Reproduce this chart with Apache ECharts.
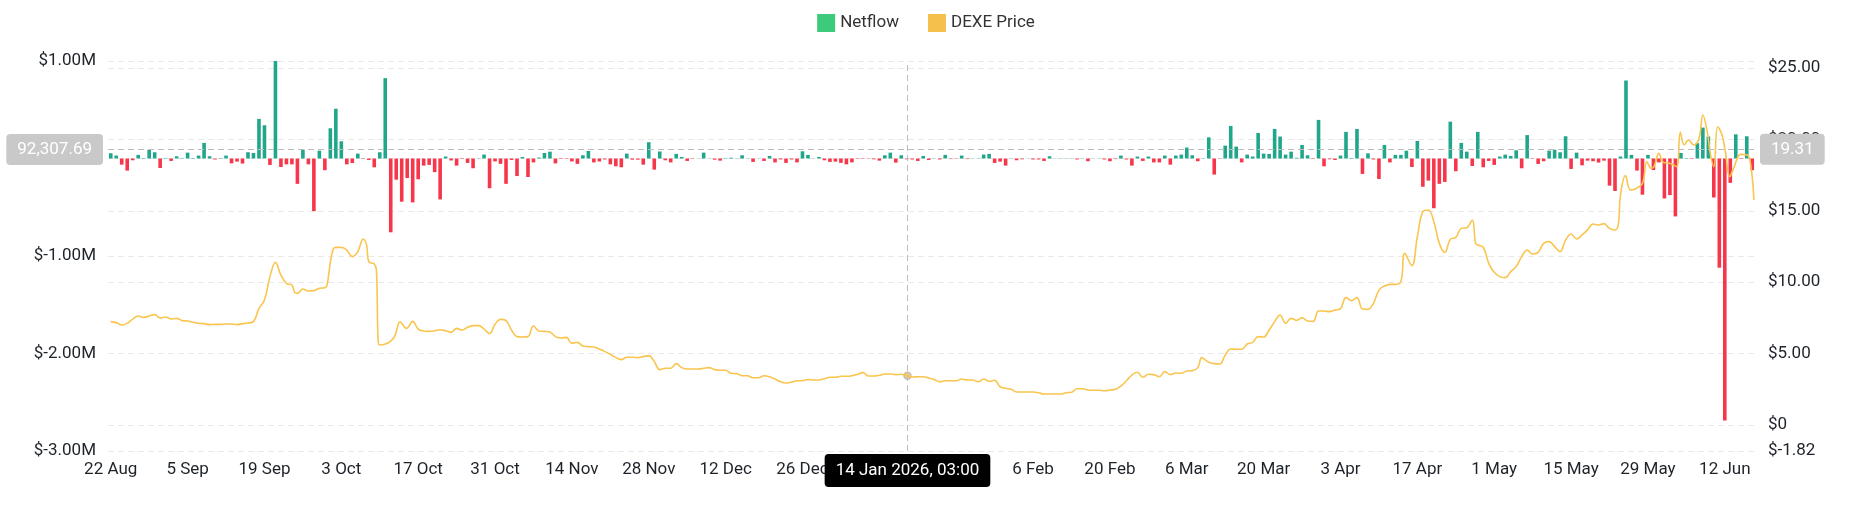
<!DOCTYPE html>
<html><head><meta charset="utf-8">
<script src="https://cdn.jsdelivr.net/npm/echarts@6/dist/echarts.min.js"></script>
<style>html,body{margin:0;padding:0;background:#fff}#c{width:1852px;height:525px}</style>
</head><body><div id="c"></div>
<script>
// Day 0 = 22 Aug 2025 (daily netflow bars, day offsets for the price line)
const START = Date.UTC(2025, 7, 22);
const DAY = 86400000;
const MONTHS = ['Jan','Feb','Mar','Apr','May','Jun','Jul','Aug','Sep','Oct','Nov','Dec'];

// Daily netflow, in USD millions (one value per day from 22 Aug 2025)
const netflowM = [
 0.054,0.03,-0.063,-0.124,-0.018,0.037,0.005,0.088,0.064,-0.097,
 0.005,-0.025,0.023,0.004,0.06,0.005,0.03,0.16,0.023,-0.01,
 0.004,0.03,-0.05,-0.032,-0.052,0.064,0.057,0.406,0.341,-0.066,
 1.0,-0.087,-0.06,-0.06,-0.26,0.09,-0.06,-0.54,0.08,-0.12,
 0.31,0.51,0.177,-0.06,-0.046,0.05,-0.005,-0.015,-0.09,0.064,
 0.824,-0.757,-0.217,-0.443,-0.2,-0.45,-0.213,-0.073,-0.066,-0.14,
 -0.42,0.02,-0.02,-0.073,-0.005,-0.045,-0.1,0.003,0.04,-0.305,
 -0.03,-0.055,-0.26,-0.015,-0.18,0.015,-0.19,-0.04,0.01,0.057,
 0.07,-0.05,-0.005,-0.005,-0.03,-0.055,0.033,0.077,-0.04,-0.03,
 -0.01,-0.06,-0.08,-0.09,0.05,-0.012,-0.012,-0.063,0.167,-0.114,
 0.072,-0.018,-0.04,0.047,0.016,-0.025,-0.004,0.002,0.06,0.002,
 -0.012,-0.022,0.005,0.008,0.003,0.033,0.003,-0.035,0.002,-0.025,
 0.026,-0.04,-0.01,-0.045,-0.01,-0.04,0.074,0.037,0.002,0.015,
 -0.018,-0.035,-0.032,-0.045,-0.06,-0.04,-0.005,-0.004,-0.003,-0.008,
 -0.022,0.033,0.06,-0.042,0.033,-0.008,-0.01,-0.025,0.026,-0.015,
 0.003,-0.01,0.037,-0.004,-0.004,0.03,-0.006,0.002,0.003,0.04,
 0.047,-0.045,-0.032,-0.073,0.002,-0.018,-0.008,0.002,-0.01,-0.01,
 -0.025,0.023,0.002,0.002,0.003,0.002,-0.01,0.002,-0.028,0.002,
 0.002,-0.01,-0.028,-0.006,0.03,-0.01,-0.073,0.02,-0.025,0.02,
 -0.04,-0.04,0.03,-0.063,0.03,0.04,0.112,0.033,-0.028,0.003,
 0.217,-0.165,-0.003,0.132,0.334,0.122,-0.04,0.04,0.02,0.262,
 0.05,0.047,0.303,0.225,0.04,0.07,0.008,0.139,0.033,-0.005,
 0.396,-0.08,-0.008,-0.015,0.03,0.273,0.005,0.303,-0.158,0.053,
 -0.01,-0.21,0.139,-0.04,0.037,0.037,0.08,-0.087,0.18,-0.29,
 -0.227,-0.51,-0.26,-0.24,0.378,-0.13,0.16,0.07,-0.077,0.273,
 -0.09,-0.025,-0.066,0.02,0.04,0.026,0.084,-0.1,0.24,-0.004,
 -0.056,-0.028,0.08,0.09,0.064,0.228,-0.107,0.06,-0.07,-0.022,
 -0.028,-0.042,-0.022,-0.278,-0.333,0.02,0.8,0.037,-0.124,-0.371,
 0.037,-0.118,-0.04,-0.41,-0.375,-0.594,0.057,0.005,-0.005,0.157,
 0.317,0.225,-0.4,-1.12,-2.687,-0.25,0.248,-0.005,0.228,-0.12
];

// DEXE price: day offsets from 22 Aug 2025 and prices in USD
const priceDay = [
 0,1,2,3,4,5,6,7,8,9,10,11,12,13,14,15,16,17,18,19,20,21,22,23,24,25,26,27,28,29,30,31,32,33,33.5,34,35,36,37,38,39,39.4,40,40.5,41,42,43,44,45,46,46.6,47,48,48.4,48.7,49,
 50,51,51.8,52.7,53.9,55,56,57,58,59,60,61,62,63,64,65,66,67,68,69,70,71,72,73,74,75,76,77,78,79,80,81,82,83,84,85,86,87,88,89,90,91,92,93,94,95,96,97,98,99,
 100,101,102,103,104,105,106,107,108,109,110,111,112,113,114,115,116,117,118,119,120,121,122,123,124,125,126,127,128,129,130,131,132,133,134,135,136,137,138,139,140,141,142,143,144,145,146,147,148,149,
 150,151,152,153,154,155,156,157,158,159,160,161,162,163,164,165,166,167,168,169,170,171,172,173,174,175,176,177,178,179,180,181,182,183,184,185,186,187,188,189,190,191,192,193,194,195,196,197,198,198.7,199,
 200,201,202,203,204,205,206,207,208,209,210,211,212,213,214,215,216,217,218,219,220,221,222,223,224,225,226,227,228,229,230,231,232,233,234,235,235.7,237,238,239,240,241,242,243,244,245,246,247,248,248.6,249,
 250,251,252,253,254,255,256,257,258,259,260,261,262,263,264,265,266,267,268,269,270,271,272,273,274,274.6,275,275.9,276.8,277.7,279,279.8,280.6,281.1,282,282.8,284.1,285.2,285.9,286.6,287.4,288.3,289.3,290,290.8,291.4,292,292.7,293.5,294.1,294.9,295.6,296.9,298.1,298.8,299.3
];
const priceUSD = [
 7.24,7.17,7.00,7.12,7.42,7.63,7.54,7.63,7.73,7.49,7.56,7.42,7.47,7.31,7.28,7.19,7.12,7.10,7.03,7.05,7.05,7.07,7.07,7.03,7.10,7.14,7.24,8.17,8.75,10.39,11.39,10.50,9.92,9.80,9.29,9.22,9.52,9.38,9.41,9.57,9.62,9.80,11.40,12.30,12.44,12.44,12.25,11.79,12.14,13.03,12.60,11.44,11.27,10.80,5.90,5.60,
 5.67,5.88,6.28,7.22,6.77,7.26,6.72,6.58,6.56,6.60,6.67,6.60,6.49,6.77,6.65,6.84,6.96,6.96,6.72,6.40,7.05,7.40,7.31,6.65,6.19,6.16,6.19,6.93,6.58,6.56,6.51,6.19,6.09,6.14,5.72,5.79,5.53,5.49,5.46,5.32,5.14,4.95,4.72,4.58,4.74,4.74,4.72,4.79,4.86,4.44,
 3.88,3.97,3.97,4.30,4.02,3.92,3.92,3.92,3.97,4.02,3.88,3.83,3.83,3.62,3.60,3.45,3.45,3.31,3.31,3.45,3.38,3.22,3.03,2.94,3.01,3.10,3.10,3.19,3.15,3.15,3.24,3.34,3.34,3.41,3.41,3.45,3.55,3.67,3.43,3.43,3.48,3.57,3.57,3.53,3.55,3.45,3.36,3.38,3.38,3.29,
 3.19,3.03,3.10,3.10,3.10,3.22,3.15,3.15,3.03,3.22,3.06,3.13,2.68,2.57,2.50,2.31,2.31,2.31,2.31,2.26,2.17,2.17,2.17,2.17,2.26,2.29,2.54,2.54,2.45,2.43,2.43,2.40,2.45,2.50,2.73,3.10,3.50,3.69,3.34,3.55,3.53,3.38,3.74,3.53,3.64,3.62,3.78,3.81,4.02,4.72,4.67,
 4.40,4.30,4.27,4.90,5.32,5.30,5.30,5.67,5.79,6.19,6.16,6.65,7.24,7.70,7.12,7.47,7.33,7.52,7.28,7.26,7.98,7.98,7.94,8.05,8.15,8.92,8.71,8.92,8.12,8.10,8.52,9.45,9.73,9.85,9.85,10.04,12.02,11.16,13.19,14.94,15.06,14.24,12.72,12.09,13.00,13.14,13.77,13.82,14.35,12.72,12.60,
 12.45,11.32,10.69,10.39,10.32,10.74,11.09,11.79,12.25,11.97,12.09,12.72,12.84,12.49,12.14,12.95,13.38,13.03,13.31,13.66,14.08,14.01,14.10,13.77,13.66,14.01,16.11,17.46,16.46,16.53,16.92,18.44,17.97,18.09,19.02,18.39,18.32,18.09,20.50,19.61,19.96,19.61,20.07,21.71,20.54,18.91,18.09,20.89,20.31,19.14,17.39,17.97,18.95,18.91,17.97,15.76
];

// x-axis tick labels every 14 days (day offsets)
const tickDays = [0,14,28,42,56,70,84,98,112,126,140,154,168,182,196,210,224,238,252,266,280,294];
// right axis ticks
const priceTicks = [-1.82,0,5,10,15,20,25];
// hovered position shown by the cross pointer
const hoverDay = 145.125;
const hoverNetflow = 92307.69;
const hoverPrice = 19.31;
const hoverLinePrice = 3.45;

const GREEN = '#20A68A', RED = '#F6364B';
const FONT = 'Roboto';
const pad2 = n => (n < 10 ? '0' : '') + n;
const dayLabel = v => { const d = new Date(v); return d.getUTCDate() + ' ' + MONTHS[d.getUTCMonth()]; };
const fullLabel = v => { const d = new Date(v); return d.getUTCDate() + ' ' + MONTHS[d.getUTCMonth()] + ' ' + d.getUTCFullYear() + ', ' + pad2(d.getUTCHours()) + ':' + pad2(d.getUTCMinutes()); };
const T = d => START + d * DAY;

const barData = netflowM.map((v, i) => ({ value: [T(i), v * 1e6], itemStyle: { color: v >= 0 ? GREEN : RED } }));
const lineData = priceDay.map((d, i) => [T(d), priceUSD[i]]);

const gridLine = { show: true, lineStyle: { color: '#e9e9e9', type: [6, 4], width: 1 } };
const pointerLine = { color: '#bdbdbd', type: [6, 4], width: 1 };
const yPtrLabel = { show: true, backgroundColor: '#c9c9c9', color: '#fff', fontSize: 17, fontFamily: FONT, padding: [7, 11], borderRadius: 4, margin: 5 };

const chart = echarts.init(document.getElementById('c'));
chart.setOption({
  animation: false,
  backgroundColor: '#fff',
  textStyle: { fontFamily: FONT },
  legend: {
    top: 9, left: 'center', itemWidth: 18, itemHeight: 18, itemGap: 29, icon: 'rect',
    textStyle: { fontSize: 17, color: '#333', fontFamily: FONT },
    data: ['Netflow', 'DEXE Price']
  },
  grid: { left: 108, right: 97, top: 61, bottom: 74 },
  xAxis: {
    type: 'value', min: T(-0.5), max: T(299.5), scale: true,
    axisLine: { show: false },
    axisTick: { show: false, customValues: tickDays.map(T) },
    splitLine: { show: false },
    axisLabel: {
      customValues: tickDays.map(T), formatter: v => dayLabel(v),
      fontSize: 17, color: '#1e2329', margin: 10, fontFamily: FONT, hideOverlap: false
    },
    axisPointer: {
      show: true, status: 'show', value: T(hoverDay), snap: false, triggerTooltip: false,
      type: 'line', lineStyle: pointerLine,
      label: { show: true, formatter: p => fullLabel(p.value), backgroundColor: '#000', color: '#fff', fontSize: 17, fontFamily: FONT, padding: [8, 11], borderRadius: 4, margin: 3 }
    }
  },
  yAxis: [
    {
      type: 'value', position: 'left', min: -3e6, max: 1e6, interval: 1e6,
      axisLine: { show: false }, axisTick: { show: false },
      splitLine: gridLine,
      axisLabel: { fontSize: 17, color: '#1e2329', margin: 12, fontFamily: FONT,
        formatter: v => v === 0 ? '$0' : '$' + (v / 1e6).toFixed(2) + 'M' },
      axisPointer: {
        show: true, status: 'show', value: hoverNetflow, snap: false, triggerTooltip: false,
        type: 'line', lineStyle: pointerLine,
        label: Object.assign({}, yPtrLabel, { formatter: p => Number(p.value).toLocaleString('en-US', { minimumFractionDigits: 2, maximumFractionDigits: 2 }) })
      }
    },
    {
      type: 'value', position: 'right', min: -1.82, max: 25.49,
      axisLine: { show: false },
      axisTick: { show: false, customValues: priceTicks },
      splitLine: gridLine,
      axisLabel: { customValues: priceTicks, fontSize: 17, color: '#1e2329', margin: 13, fontFamily: FONT,
        showMinLabel: true, showMaxLabel: true,
        formatter: v => v === 0 ? '$0' : '$' + v.toFixed(2) },
      axisPointer: {
        show: true, status: 'show', value: hoverPrice, snap: false, triggerTooltip: false,
        type: 'line', lineStyle: pointerLine,
        label: Object.assign({}, yPtrLabel, { formatter: p => Number(p.value).toFixed(2) })
      }
    }
  ],
  series: [
    {
      name: 'Netflow', type: 'bar', yAxisIndex: 0, barWidth: 3.6,
      itemStyle: { color: '#3DCB7B' },
      data: barData
    },
    {
      name: 'DEXE Price', type: 'line', yAxisIndex: 1, smooth: 0.4, showSymbol: false,
      itemStyle: { color: '#F5C04B' },
      lineStyle: { color: '#F9C54E', width: 1.6 },
      data: lineData
    },
    {
      name: 'hover', type: 'scatter', yAxisIndex: 1, symbolSize: 7, silent: true,
      itemStyle: { color: '#f2c15a', borderColor: '#b8b8b8', borderWidth: 1.5 },
      data: [[T(hoverDay), hoverLinePrice]]
    }
  ]
});
</script>
</body></html>
